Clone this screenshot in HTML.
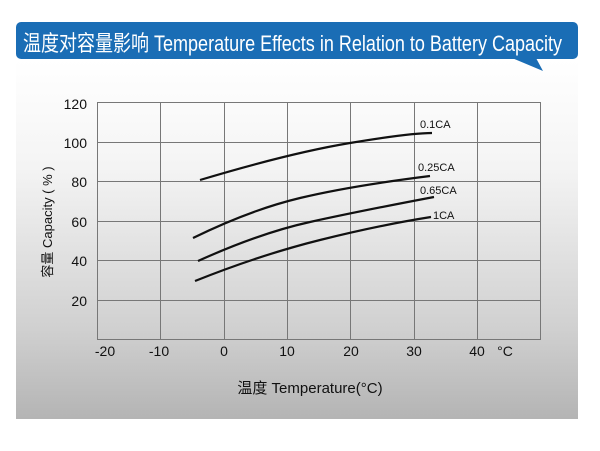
<!DOCTYPE html>
<html><head><meta charset="utf-8"><style>
body{margin:0;width:600px;height:451px;background:#fff;overflow:hidden;position:relative;font-family:"Liberation Sans","Noto Sans CJK SC",sans-serif}
.panel{position:absolute;left:16px;top:60px;width:562px;height:359px;background:linear-gradient(#fff 0%,#f4f4f4 30%,#d0d0d0 75%,#b4b4b4 100%)}
</style></head><body>
<div class="panel"></div>
<svg width="600" height="451" style="position:absolute;left:0;top:0;font-family:'Liberation Sans','Noto Sans CJK SC',sans-serif">
<rect x="16" y="22" width="562" height="37" rx="5" fill="#1a6db5"/>
<polygon points="512,58 536,58 543,71" fill="#1a6db5"/>
<text x="23" y="51" font-size="22" fill="#fff" textLength="539" lengthAdjust="spacingAndGlyphs">温度对容量影响 Temperature Effects in Relation to Battery Capacity</text>
<g stroke="#777" stroke-width="1" fill="none">
<rect x="97.5" y="102.5" width="443" height="237"/>
<line x1="160.5" y1="102" x2="160.5" y2="340"/><line x1="224.5" y1="102" x2="224.5" y2="340"/>
<line x1="287.5" y1="102" x2="287.5" y2="340"/><line x1="350.5" y1="102" x2="350.5" y2="340"/>
<line x1="414.5" y1="102" x2="414.5" y2="340"/><line x1="477.5" y1="102" x2="477.5" y2="340"/>
<line x1="97" y1="142.5" x2="541" y2="142.5"/><line x1="97" y1="181.5" x2="541" y2="181.5"/>
<line x1="97" y1="221.5" x2="541" y2="221.5"/><line x1="97" y1="260.5" x2="541" y2="260.5"/>
<line x1="97" y1="300.5" x2="541" y2="300.5"/>
</g>
<g stroke="#111" stroke-width="2.2" fill="none">
<path d="M200,180 Q290,153 350,143 T432,133"/>
<path d="M193,238 Q250,210 300,198 T430,176"/>
<path d="M198,261 Q260,233 310,222 T434,197"/>
<path d="M195,281 Q260,255 320,240 T431,217"/>
</g>
<g font-size="11" fill="#111">
<text x="420" y="128">0.1CA</text><text x="418" y="171">0.25CA</text>
<text x="420" y="194">0.65CA</text><text x="433" y="219">1CA</text>
</g>
<g font-size="14" fill="#111" text-anchor="end">
<text x="87" y="109">120</text><text x="87" y="148">100</text><text x="87" y="187">80</text>
<text x="87" y="227">60</text><text x="87" y="266">40</text><text x="87" y="306">20</text>
</g>
<g font-size="14" fill="#111" text-anchor="middle">
<text x="105" y="356">-20</text><text x="159" y="356">-10</text><text x="224" y="356">0</text>
<text x="287" y="356">10</text><text x="351" y="356">20</text><text x="414" y="356">30</text>
<text x="477" y="356">40</text><text x="505" y="356">°C</text>
</g>
<text x="310" y="393" font-size="15" fill="#111" text-anchor="middle">温度  Temperature(°C)</text>
<text transform="translate(52,222) rotate(-90)" font-size="13" fill="#111" text-anchor="middle">容量 Capacity ( % )</text>
</svg>
</body></html>
